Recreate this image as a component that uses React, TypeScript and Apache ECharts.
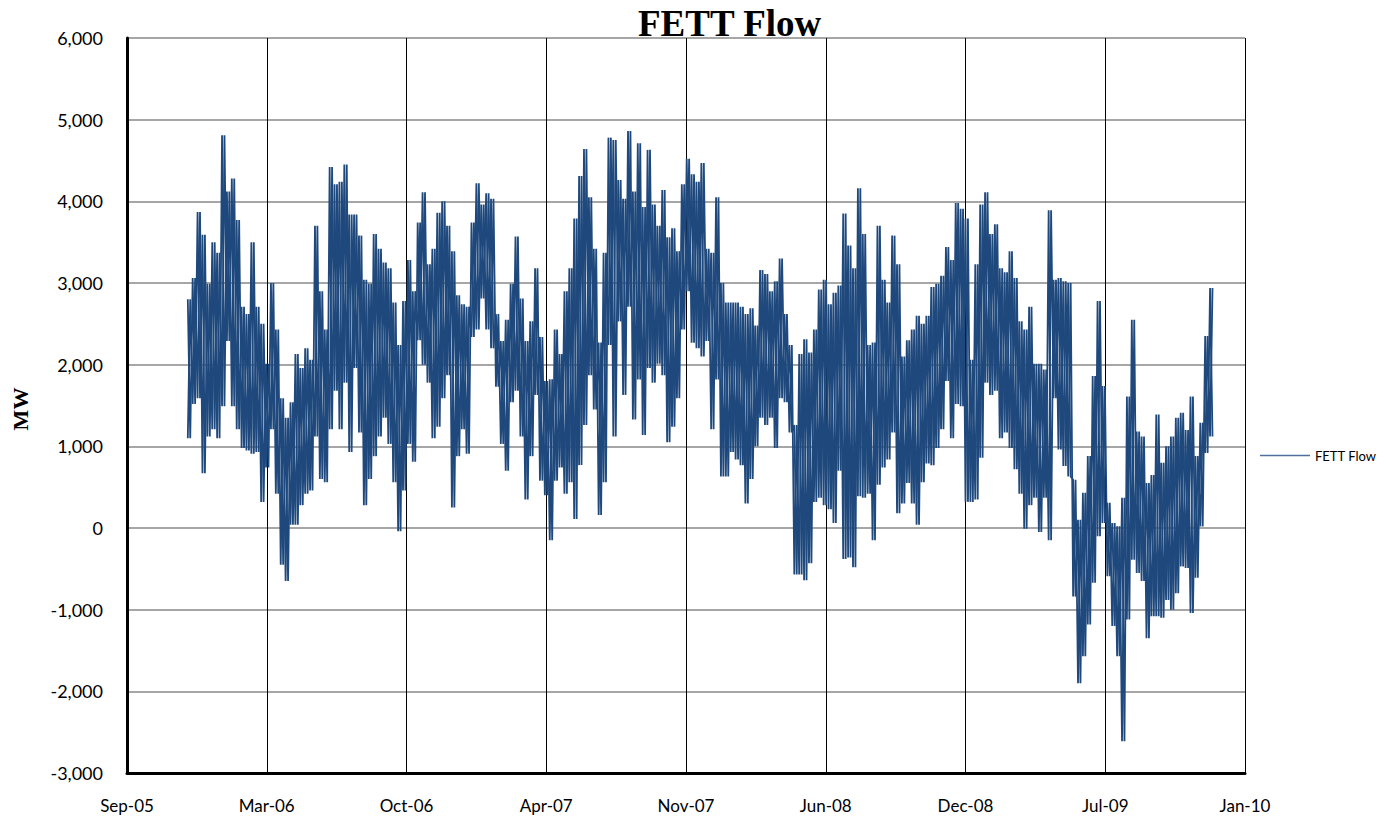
import React, { useEffect, useRef } from "react";
import * as echarts from "echarts";

// Weekly envelope of the hourly FETT flow (MW).
// First week starts 2005-12-01; one hi and one lo value per week.
const seriesName = "FETT Flow";
const firstWeek = "2005-12-01";
const axisStart = "2005-09-05";
const xTickDays = [0, 200, 400, 600, 800, 1000, 1200, 1400, 1600];
const yTicks = [-3000, -2000, -1000, 0, 1000, 2000, 3000, 4000, 5000, 6000];

const weeklyHigh = [
  // Dec-05 .. Aug-06
  2800, 3060, 3870, 3590, 2990, 3500, 3370, 4810, 4120, 4280, 3770, 2710, 2620, 3500, 2710, 2500, 2010, 3000, 2430, 1590,
  1350, 1540, 2130, 1960, 2200, 2060, 3700, 2900, 2430, 4420, 4210, 4240, 4450, 3840, 3840, 3580, 3040, 2990,
  // Aug-06 .. Apr-07
  3600, 3420, 3250, 3180, 2760, 2240, 2780, 3280, 2900, 3740, 4110, 3230, 3420, 3860, 4000, 3700, 3390, 2850, 2740, 2710,
  3740, 4220, 3960, 4100, 4030, 2620, 2290, 2550, 2990, 3570, 2810, 2290, 2530, 3180, 2340, 1800,
  // Apr-07 .. Dec-07
  1820, 2430, 2130, 2900, 3180, 3790, 4310, 4640, 4050, 3420, 2270, 3370, 4780, 4750, 4260, 4030, 4860, 4120, 4710, 3930,
  4630, 3960, 3700, 4140, 3560, 3670, 3390, 4210, 4520, 4330, 4240, 4470, 3420, 3370, 4050, 3000,
  // Jan-08 .. Sep-08
  2760, 2760, 2760, 2710, 2620, 2690, 2480, 3160, 3110, 2900, 3020, 3300, 2620, 2240, 1260, 2130, 2310, 2150, 2430, 2920,
  3040, 2740, 2880, 2970, 3850, 3460, 3180, 4160, 3600, 2240, 2270, 3700, 3040, 2760, 3580, 3230, 2100, 2300,
  // Sep-08 .. May-09
  2430, 2600, 2500, 2600, 2950, 2990, 3090, 3440, 3280, 3980, 3910, 3790, 2060, 3230, 3960, 4110, 3600, 3720, 3180, 3130,
  3390, 3060, 2530, 2430, 2710, 2010, 2010, 1940, 3890, 3040,
  // May-09 .. Dec-09
  3060, 3020, 3000, 590, 100, 430, 880, 1860, 2780, 1740, 310, 60, 20, 370, 1610, 2550, 1180, 1120, 550, 650,
  1390, 800, 1000, 1120, 1350, 1410, 1200, 1610, 880, 1290, 2350, 2940,
];

const weeklyLow = [
  1100, 1520, 1590, 670, 1120, 1210, 1100, 1490, 2290, 1490, 1210, 980, 950, 910, 930, 320, 740, 1210, 420, -450,
  -650, 40, 40, 280, 420, 460, 1120, 600, 560, 1210, 1680, 1210, 1780, 930, 1960, 1170, 280, 600,
  880, 1120, 1350, 1030, 560, -40, 460, 1030, 810, 2300, 2000, 1780, 1100, 1240, 1590, 1870, 250, 880, 1210, 910,
  2340, 2430, 2810, 2430, 2200, 1730, 1030, 700, 1540, 1680, 1120, 350, 880, 1630, 580, 400,
  -150, 580, 740, 420, 560, 110, 770, 1260, 1870, 1450, 160, 560, 2240, 1120, 2530, 1630, 2710, 1330, 1820, 1140,
  1960, 1780, 2010, 1870, 1050, 1240, 1590, 2430, 2900, 2270, 2200, 2100, 2290, 1210, 1820, 630,
  630, 930, 840, 770, 300, 600, 1000, 1350, 1260, 1350, 980, 1590, 1540, 1170, -570, -570, -640, -430, 320, 370,
  280, 230, 60, 700, -380, -360, -480, 390, 370, 420, -150, 530, 740, 840, 1170, 180, 300, 550,
  300, 40, 560, 790, 770, 980, 1210, 1800, 1100, 1520, 1490, 320, 320, 350, 860, 1780, 1630, 1680, 1100, 1170,
  980, 720, 420, -10, 280, 370, -50, 370, -150, 1590,
  960, 760, 630, -840, -1900, -1570, -1180, -670, -100, 60, -590, -1200, -1570, -2610, -1120, -390, -550, -650, -1350, -1080,
  -1080, -1100, -880, -1000, -800, -470, -490, -1040, -610, 20, 920, 1120,
];

const MONTHS = ["Jan", "Feb", "Mar", "Apr", "May", "Jun", "Jul", "Aug", "Sep", "Oct", "Nov", "Dec"];
const DAY = 86400000;
const LINE_COLOR = "#1F497D";

export default function App() {
  const ref = useRef<HTMLDivElement>(null);

  useEffect(() => {
    if (!ref.current) return;
    const chart = echarts.init(ref.current, null, { renderer: "svg" });
    const base = Date.parse(axisStart + "T00:00:00Z");
    const startOffset = (Date.parse(firstWeek + "T00:00:00Z") - base) / DAY;

    // Each week is drawn as a high/low swing; the two traces swing in opposite
    // phase so that the dense hourly band of the original is filled in.
    const traceA: [number, number][] = [];
    const traceB: [number, number][] = [];
    for (let i = 0; i < weeklyHigh.length; i++) {
      const d = startOffset + 7 * i;
      traceA.push([d, weeklyHigh[i]]);
      traceA.push([d + 3.5, weeklyLow[i]]);
      traceB.push([d, weeklyLow[i]]);
      traceB.push([d + 3.5, weeklyHigh[i]]);
    }

    const fmtDate = (v: number) => {
      const dt = new Date(base + v * DAY);
      const yy = String(dt.getUTCFullYear() % 100).padStart(2, "0");
      return `${MONTHS[dt.getUTCMonth()]}-${yy}`;
    };

    const lineSeries = (data: [number, number][]) => ({
      type: "line",
      name: seriesName,
      data,
      symbol: "none",
      showSymbol: false,
      lineStyle: { color: LINE_COLOR, width: 1.8, join: "bevel" },
      itemStyle: { color: LINE_COLOR },
    });

    chart.setOption({
      animation: false,
      backgroundColor: "#ffffff",
      title: {
        text: seriesName,
        left: 633,
        top: 0,
        textStyle: { fontFamily: "Liberation Serif", fontWeight: "bold", fontSize: 37, color: "#000" },
      },
      grid: { left: 127, right: 141, top: 38, bottom: 46, containLabel: false },
      legend: {
        show: true,
        left: 1255,
        top: 444,
        icon: "rect",
        itemWidth: 50,
        itemHeight: 1.5,
        itemStyle: { color: "#4F6FA0" },
        textStyle: { fontFamily: "Lato", fontSize: 13, color: "#000" },
        data: [seriesName],
      },
      xAxis: {
        type: "value",
        min: xTickDays[0],
        max: xTickDays[xTickDays.length - 1],
        interval: xTickDays[1] - xTickDays[0],
        axisLine: { show: true, onZero: false, lineStyle: { color: "#000", width: 3 } },
        axisTick: { show: false },
        splitLine: { show: true, lineStyle: { color: "#000", width: 1 } },
        axisLabel: { formatter: fmtDate, fontFamily: "Lato", fontSize: 17, color: "#000", margin: 24 },
      },
      yAxis: {
        type: "value",
        min: yTicks[0],
        max: yTicks[yTicks.length - 1],
        interval: yTicks[1] - yTicks[0],
        axisLine: { show: true, onZero: false, lineStyle: { color: "#000", width: 3 } },
        axisTick: { show: false },
        splitLine: { show: true, lineStyle: { color: "#888888", width: 1.5 } },
        axisLabel: {
          formatter: (v: number) => v.toLocaleString("en-US"),
          fontFamily: "Lato",
          fontSize: 18,
          color: "#000",
          margin: 24,
        },
      },
      graphic: [
        {
          type: "text",
          x: 20,
          y: 409,
          rotation: Math.PI / 2,
          style: {
            text: "MW",
            font: 'bold 22px "Liberation Serif"',
            textAlign: "center",
            textVerticalAlign: "middle",
            fill: "#000",
          },
        },
      ],
      series: [lineSeries(traceA), lineSeries(traceB)],
    });

    return () => chart.dispose();
  }, []);

  return (
    <div
      ref={ref}
      style={{ position: "fixed", left: 0, top: 0, width: 1386, height: 819, background: "#fff" }}
    />
  );
}
